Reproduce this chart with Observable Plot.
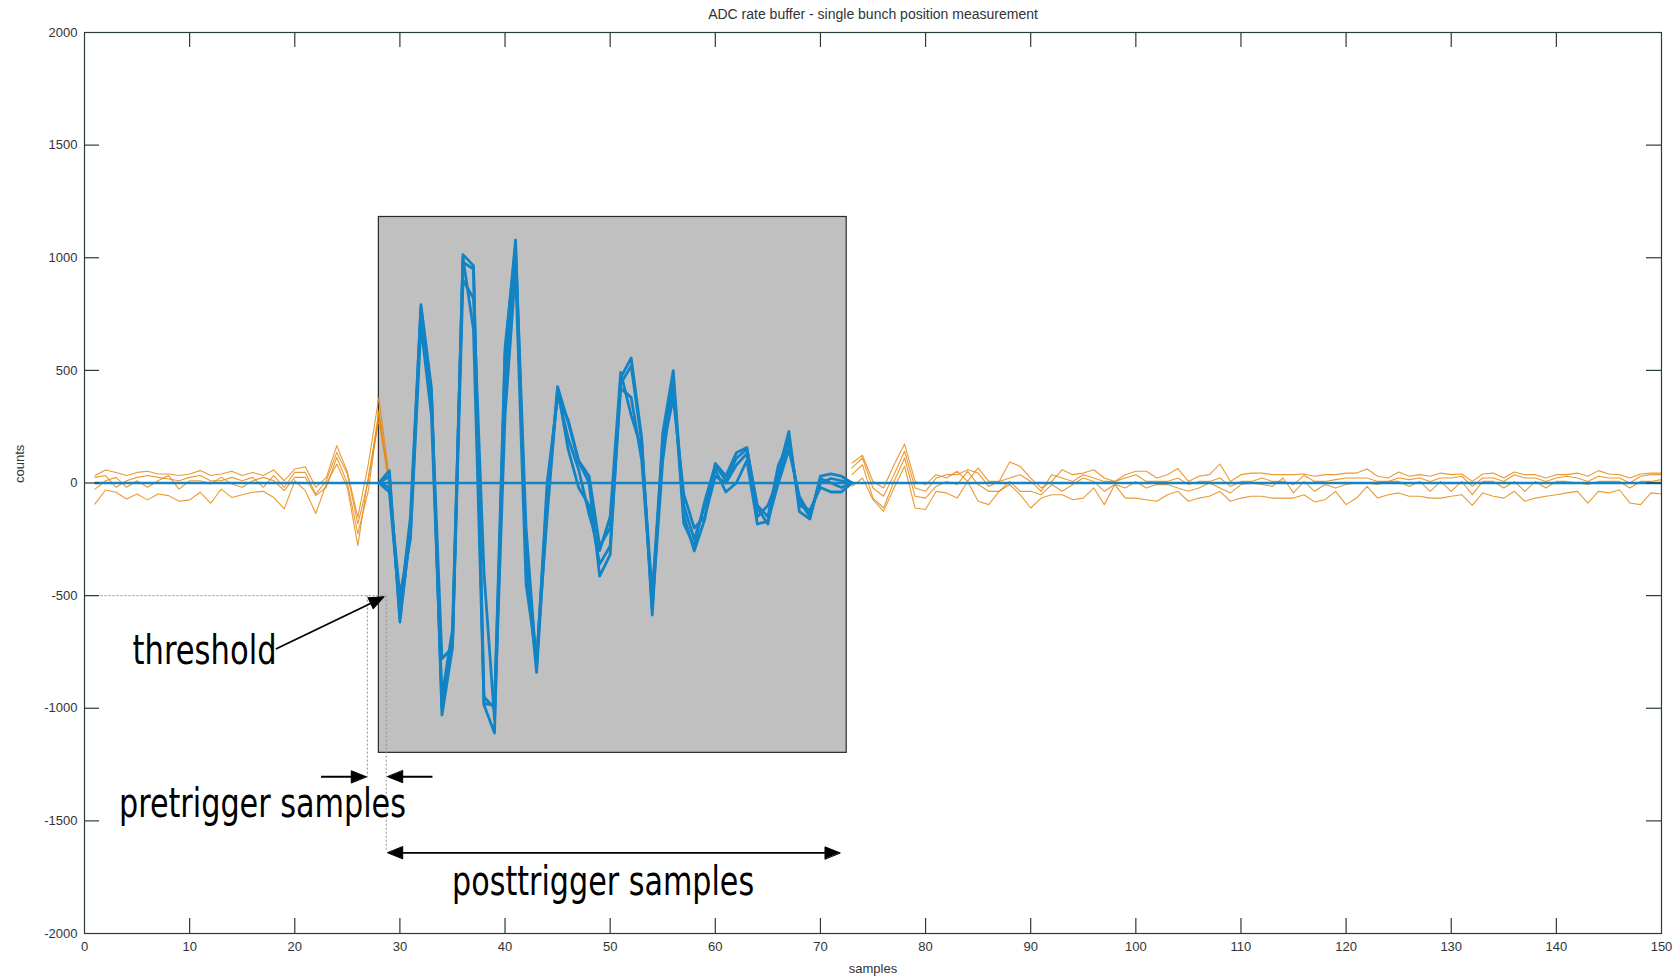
<!DOCTYPE html>
<html><head><meta charset="utf-8">
<script src="https://cdn.jsdelivr.net/npm/d3@7"></script>
<script src="https://cdn.jsdelivr.net/npm/@observablehq/plot@0.6"></script>
<style>
body{margin:0;background:#fff}
#chart svg{display:block}
</style>
</head><body><div id="chart"></div>
<script>
const title = "ADC rate buffer - single bunch position measurement";
const xLabel = "samples";
const yLabel = "counts";
const xTicks = [0,10,20,30,40,50,60,70,80,90,100,110,120,130,140,150];
const yTicks = [-2000,-1500,-1000,-500,0,500,1000,1500,2000];

// Orange traces before the trigger window (samples 1..29)
const preStart = 1;
const pre1 = [33,58,47,33,47,52,40,40,33,40,55,33,40,52,33,47,33,58,10,62,72,-19,25,166,50,-152,85,380,20];
const pre2 = [25,33,-19,10,25,33,25,18,10,25,33,10,10,25,10,25,-19,33,-19,47,47,-49,10,136,40,-182,10,321,0];
const pre3 = [-27,10,25,-19,10,-19,10,33,-27,10,10,-4,25,-4,-19,10,25,10,-34,25,25,-56,-19,114,0,-226,-34,306,-30];
const pre4 = [-93,-31,-41,-71,-49,-75,-49,-56,-81,-75,-41,-90,-27,-64,-52,-41,-37,-64,-115,10,-34,-135,-4,84,-20,-278,30,277,10];

// Orange traces after the trigger window (samples 73..150)
const postStart = 73;
const post1 = [89,123,7,-22,81,173,7,-7,
  37,22,52,7,67,7,7,93,74,22,
  -22,7,59,37,44,59,22,7,37,52,
  52,22,37,64,7,30,37,84,7,37,
  44,44,37,37,37,40,30,37,37,44,
  44,62,30,22,49,30,37,30,44,37,
  40,7,40,44,22,49,37,37,22,37,
  37,44,30,55,40,37,22,40,44,44];
const post2 = [67,111,-22,-59,37,141,-22,-37,
  22,37,37,59,44,-15,7,22,37,7,
  -37,37,22,7,37,22,7,7,22,37,
  7,7,7,22,-7,7,7,22,-15,7,
  7,22,7,7,-7,34,7,7,15,22,
  22,22,7,7,22,15,22,7,22,22,
  30,-15,22,22,7,37,22,22,7,22,
  30,22,7,30,22,22,0,30,37,37];
const post3 = [37,81,-67,-111,7,111,-59,-67,
  -15,7,-7,52,-7,-37,-37,7,-37,-37,
  -52,-7,-37,-7,22,7,-37,-7,-22,7,
  -22,-7,-7,-22,-37,-22,0,-22,-44,-7,
  0,-7,-15,22,-44,7,-37,-7,-22,-7,
  0,0,-7,7,7,-15,7,-37,7,-37,
  7,-52,7,7,-22,7,-37,7,-22,7,
  7,0,-7,7,7,7,-22,7,7,15];
const post4 = [-15,22,-74,-126,-22,74,-111,-118,
  -37,-44,-67,7,-81,-96,-37,-7,-52,-111,
  -67,-52,-52,-74,-67,-22,-96,-7,-67,-67,
  -74,-81,-52,-37,-81,-67,-59,-37,-81,-67,
  -59,-59,-67,-67,-67,-52,-84,-74,-37,-96,
  -67,-15,-67,-52,-44,-59,-59,-67,-67,-59,
  -52,-99,-44,-59,-67,-37,-81,-67,-59,-52,
  -44,-37,-89,-37,-44,-30,-89,-96,-44,-49];

// Blue traces inside the trigger window (samples 28..73)
const bunchStart = 28;
const bunch1 = [0,55,-617,-200,792,420,-1030,-730,1014,965,-985,-1110,570,1079,-350,-841,-100,428,270,95,0,-413,-318,467,555,200,-586,222,499,-143,-302,-160,87,31,134,158,-111,-182,50,229,-127,-160,30,40,30,0];
const bunch2 = [0,-40,-560,-150,780,400,-1000,-700,1000,680,-980,-985,450,1000,-300,-800,-50,400,200,60,-140,-300,-150,491,300,150,-493,190,420,-100,-250,-100,60,-40,0,100,-182,-170,0,150,-60,-140,0,20,10,0];
const bunch3 = [0,30,-600,-220,760,380,-780,-730,900,820,-400,-1050,300,950,-450,-780,-150,420,150,-20,-100,-360,-280,420,380,100,-520,150,380,-50,-200,-150,30,0,80,130,-150,-100,20,200,-100,-120,-20,-40,-40,0];
const bunch4 = [0,-20,-500,-250,700,300,-950,-650,980,950,-950,-1000,600,1050,-200,-820,0,380,280,100,30,-280,-200,440,520,180,-560,100,460,-180,-280,-80,80,10,110,150,-100,-150,80,180,-80,-150,20,0,-20,0];

// Baseline (zero) line extent
const baseline = [{x1: 1, x2: 150, y: 0}];

// Trigger window box
const box = [{x1: 28, x2: 72.5, y1: -1198, y2: 1181}];

// Annotation guides
const guides = [
  {x1: 0, y1: -500, x2: 28.6, y2: -500},
  {x1: 26.9, y1: -500, x2: 26.9, y2: -1309},
  {x1: 28.7, y1: -500, x2: 28.7, y2: -1634}
];
const shafts = [
  {x1: 18.2, y1: -737, x2: 28.2, y2: -513},
  {x1: 22.5, y1: -1304, x2: 26.0, y2: -1304},
  {x1: 33.1, y1: -1304, x2: 29.6, y2: -1304},
  {x1: 29.6, y1: -1642, x2: 71.1, y2: -1642}
];
const heads = [
  {x: 28.5, y: -505, angle: 64.3},
  {x: 26.8, y: -1304, angle: 90},
  {x: 28.84, y: -1304, angle: 270},
  {x: 28.84, y: -1642, angle: 270},
  {x: 71.86, y: -1642, angle: 90}
];
const notes = [
  {label: "threshold", x: 11.42, y: -746},
  {label: "pretrigger samples", x: 16.93, y: -1425},
  {label: "posttrigger samples", x: 49.33, y: -1772}
];

function toRows(arrs, start, prefix) {
  const rows = [];
  arrs.forEach((arr, k) => arr.forEach((v, i) => rows.push({x: start + i, y: v, z: prefix + k})));
  return rows;
}
const orangeRows = [
  ...toRows([pre1, pre2, pre3, pre4], preStart, "pre"),
  ...toRows([post1, post2, post3, post4], postStart, "post")
];
const blueRows = toRows([bunch1, bunch2, bunch3, bunch4], bunchStart, "b");

const W = 1680, H = 979;
const mL = 84, mR = 19, mT = 32, mB = 46;
const plotW = W - mL - mR, plotH = H - mT - mB;
const tickLen = 15;
const axisColor = "#2a3d33";
const labelColor = "#2f3338";
const blue = "#1284c6";
const orange = "#e8870e";
const noteWidths = [144, 287, 302];
const headShape = {
  draw(context, l, r) {
    context.moveTo(0, -l);
    context.lineTo(-r, 0);
    context.lineTo(r, 0);
    context.closePath();
  }
};
const annFont = "'Liberation Sans Narrow', 'DejaVu Sans Condensed', 'Liberation Sans', sans-serif";

const chart = Plot.plot({
  width: W, height: H,
  marginLeft: mL, marginRight: mR, marginTop: mT, marginBottom: mB,
  style: {fontFamily: "'Liberation Sans', Arial, sans-serif", background: "#fff"},
  x: {domain: [0, 150]},
  y: {domain: [-2000, 2000]},
  marks: [
    Plot.rect(box, {x1: "x1", x2: "x2", y1: "y1", y2: "y2", fill: "#c0c0c0", stroke: "#2b2b2b", strokeWidth: 1.2}),
    Plot.line(orangeRows, {x: "x", y: "y", z: "z", stroke: orange, strokeWidth: 1.1, strokeOpacity: 0.85}),
    Plot.ruleY(baseline, {y: "y", x1: "x1", x2: "x2", stroke: blue, strokeWidth: 2.6}),
    Plot.line(blueRows, {x: "x", y: "y", z: "z", stroke: blue, strokeWidth: 2.8}),
    Plot.link(guides, {x1: "x1", y1: "y1", x2: "x2", y2: "y2", stroke: "#8c8c8c", strokeWidth: 1, strokeDasharray: "2,2"}),
    Plot.link(shafts, {x1: "x1", y1: "y1", x2: "x2", y2: "y2", stroke: "#000", strokeWidth: 1.8}),
    Plot.vector(heads, {x: "x", y: "y", rotate: "angle", length: 15, r: 6, anchor: "end", shape: headShape, fill: "#000", stroke: "#000", strokeWidth: 1}),
    Plot.text(notes, {x: "x", y: "y", text: "label", fontSize: 40, fontFamily: annFont, fill: "#000", textAnchor: "middle", lineAnchor: "middle", className: "annot"}),
    Plot.frame({stroke: axisColor, strokeWidth: 1.2}),
    Plot.tickX(xTicks.slice(1, -1), {x: d => d, insetTop: plotH - tickLen, stroke: axisColor, strokeWidth: 1.2}),
    Plot.tickX(xTicks.slice(1, -1), {x: d => d, insetBottom: plotH - tickLen, stroke: axisColor, strokeWidth: 1.2}),
    Plot.tickY(yTicks.slice(1, -1), {y: d => d, insetRight: plotW - tickLen, stroke: axisColor, strokeWidth: 1.2}),
    Plot.tickY(yTicks.slice(1, -1), {y: d => d, insetLeft: plotW - tickLen, stroke: axisColor, strokeWidth: 1.2}),
    Plot.axisX({ticks: xTicks, tickSize: 0, tickPadding: 8, fontSize: 13, fill: labelColor, label: null, tickFormat: d => String(d)}),
    Plot.axisY({ticks: yTicks, tickSize: 0, tickPadding: 7, fontSize: 13, fill: labelColor, label: null, tickFormat: d => String(d)}),
    Plot.text([title], {frameAnchor: "top", dy: -18, text: d => d, fontSize: 14, fill: labelColor, lineAnchor: "middle"}),
    Plot.text([xLabel], {frameAnchor: "bottom", dy: 35, text: d => d, fontSize: 13, fill: labelColor, lineAnchor: "middle"}),
    Plot.text([yLabel], {frameAnchor: "left", dx: -65, text: d => d, fontSize: 13, fill: labelColor, rotate: -90, lineAnchor: "middle"})
  ]
});
chart.querySelectorAll("g.annot text").forEach((t, i) => {
  t.setAttribute("textLength", noteWidths[i]);
  t.setAttribute("lengthAdjust", "spacingAndGlyphs");
});
document.getElementById("chart").appendChild(chart);
</script>
</body></html>
